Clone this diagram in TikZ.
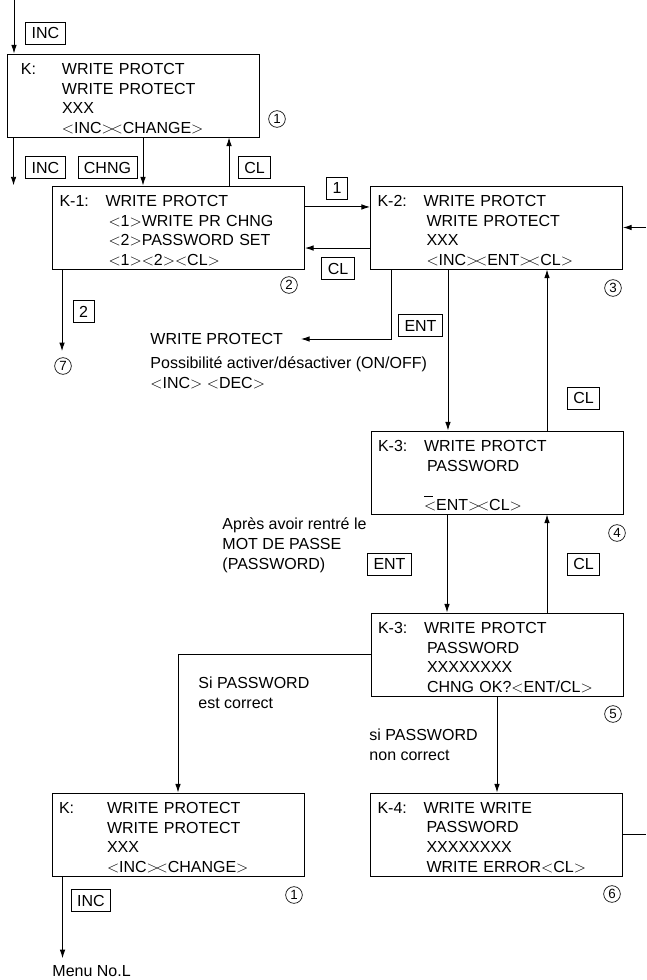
\documentclass[tikz,border=0pt]{standalone}
\usepackage{fontspec}
\setmainfont{Liberation Sans}
\usepackage{tikz}
\usetikzlibrary{
    arrows.meta,
    positioning,
    calc
}

\newcommand{\boxfont}{\fontsize{12}{14.8}\selectfont}
\newcommand{\bopen}{$<$}
\newcommand{\bclose}{$>$}
\newcommand{\bcross}{$>$\kern-2.5pt$<$}
\newcommand{\scrtag}[1]{\makebox[34.5pt][l]{#1}}
\newcommand{\scrind}{\hspace*{36.75pt}}
\newcommand{\scrend}{\endgraf\kern-4.5pt}

\begin{document}
\begin{tikzpicture}[
    x=0.75pt, y=-0.75pt,
    >={Latex[length=6.5pt,width=4.2pt]},
    line width=0.7pt,
    screen/.style={draw, minimum width=189pt, minimum height=62.25pt, text width=178.5pt, inner xsep=5.25pt, align=left, font=\boxfont, execute at end node=\scrend},
    key/.style={draw, line width=0.6pt, inner xsep=4.5pt, inner ysep=0pt, minimum height=16.5pt, font=\boxfont},
    num/.style={circle, draw, line width=0.5pt, inner sep=0pt, minimum size=12.5pt, font=\fontsize{10}{10}\selectfont},
    note/.style={anchor=west, inner sep=0pt, align=left, font=\fontsize{12}{15}\selectfont},
    arr/.style={->}
]
\useasboundingbox (0,0) rectangle (646,980);

% ==================== MENU K ====================
\node[screen] (k) at (133,95.5) {
    \makebox[36pt][l]{\hspace*{5.25pt}K:}WRITE PROTCT\\
    \hspace*{36pt}WRITE PROTECT\\
    \hspace*{36pt}XXX\\
    \hspace*{36pt}\bopen INC\bcross CHANGE\bclose
};
\node[num] (c1) at (277,119) {1};
\coordinate (entry) at (14,0);
\draw[arr] (entry) -- (entry |- k.north);
\node[key] (kinc0) at (45.5,33) {INC};

% ==================== K-1 ====================
\node[screen] (k1) at (178.5,227.5) {
    \scrtag{K-1:}WRITE PROTCT\\
    \scrind\bopen 1\bclose WRITE PR CHNG\\
    \scrind\bopen 2\bclose PASSWORD SET\\
    \scrind\bopen 1\bclose\bopen 2\bclose\bopen CL\bclose
};
\node[num] (c2) at (289,285) {2};

\draw[arr] ([xshift=5.25pt]k.south west) -- ++(0,48);
\draw[arr] ([xshift=7.5pt]k.south) -- ([xshift=7.5pt]k.south |- k1.north);
\draw[arr] ([xshift=37.9pt]k1.north) -- ([xshift=37.9pt]k1.north |- k.south);
\node[key] (kinc1) at (45.5,167.5) {INC};
\node[key] (kchng) at (107.5,167.5) {CHNG};
\node[key] (kcl1) at (254.5,167.5) {CL};

% ==================== K-2 ====================
\node[screen] (k2) at (496.5,227.5) {
    \scrtag{K-2:}WRITE PROTCT\\
    \scrind WRITE PROTECT\\
    \scrind XXX\\
    \scrind\bopen INC\bcross ENT\bcross CL\bclose
};
\node[num] (c3) at (613,288) {3};
\coordinate (ret) at (646,227.5);

\draw[arr] ([yshift=15.4pt]k1.east) -- ([yshift=15.4pt]k1.east -| k2.west);
\draw[arr] ([yshift=-15.4pt]k2.west) -- ([yshift=-15.4pt]k2.west -| k1.east);
\draw[arr] (ret) -- (k2.east);
\node[key] (kone) at (337,188) {1};
\node[key] (kcl2) at (338,268.5) {CL};

% ==================== WRITE PROTECT SETTING ====================
\node[note] (wp) at (150,339) {WRITE PROTECT};
\node[note] (wpnote) at (150,373) {Possibilité activer/désactiver (ON/OFF)\\\bopen INC\bclose\ \bopen DEC\bclose};
\draw[arr] ([xshift=15.75pt]k2.south west) |- ([xshift=13.2pt]wp.east);
\node[key] (kent1) at (420.5,325.5) {ENT};

% branch 2
\node[num] (c7) at (63,366) {7};
\draw[arr, shorten >=4.6pt] ([xshift=7.5pt]k1.south west) -- ([xshift=7.5pt]k1.south west |- c7.north);
\node[key] (ktwo) at (83.5,311.5) {2};

% ==================== K-3 PASSWORD ENTRY ====================
\node[screen] (k3) at (497,472.5) {
    \scrtag{K-3:}WRITE PROTCT\\
    \scrind PASSWORD\\
    \mbox{}\\
    \hspace*{34.5pt}\rlap{\raisebox{10pt}{\rule{7pt}{0.6pt}}}\bopen ENT\bcross CL\bclose
};
\node[num] (c4) at (617,533) {4};

\draw[arr] ([xshift=-36.4pt]k2.south) -- ([xshift=-36.4pt]k2.south |- k3.north);
\draw[arr] ([xshift=37.5pt]k3.north) -- ([xshift=37.5pt]k3.north |- k2.south);
\node[key] (kcl3) at (583.5,398) {CL};

\node[note] (after) at (222,545) {Après avoir rentré le\\MOT DE PASSE\\(PASSWORD)};

% ==================== K-3 CONFIRM ====================
\node[screen] (k5) at (497,654.5) {
    \scrtag{K-3:}WRITE PROTCT\\
    \scrind PASSWORD\\
    \scrind XXXXXXXX\\
    \scrind CHNG OK?\bopen ENT/CL\bclose
};
\node[num] (c5) at (613,714) {5};

\draw[arr] ([xshift=-37.5pt]k3.south) -- ([xshift=-37.5pt]k3.south |- k5.north);
\draw[arr] ([xshift=37.5pt]k5.north) -- ([xshift=37.5pt]k5.north |- k3.south);
\node[key] (kent2) at (389.5,564) {ENT};
\node[key] (kcl4) at (583.5,564) {CL};

% ==================== RESULT ====================
\node[screen] (kend) at (178,834.5) {
    \makebox[36pt][l]{K:}WRITE PROTECT\\
    \hspace*{36pt}WRITE PROTECT\\
    \hspace*{36pt}XXX\\
    \hspace*{36pt}\bopen INC\bcross CHANGE\bclose
};
\node[num] (c1b) at (294,895) {1};

\node[screen] (k4) at (496.5,834.5) {
    \scrtag{K-4:}WRITE WRITE\\
    \scrind PASSWORD\\
    \scrind XXXXXXXX\\
    \scrind WRITE ERROR\bopen CL\bclose
};
\node[num] (c6) at (612,894) {6};

\draw[arr] (k5.west) -| (kend.north);
\node[note] (ok) at (198,693) {Si PASSWORD\\est correct};
\draw[arr] (k5.south) -- (k5.south |- k4.north);
\node[note] (nok) at (369,744.5) {si PASSWORD\\non correct};
\draw (k4.east) -- (k4.east -| ret);

% ==================== EXIT ====================
\node[note] (menu) at (52,971) {Menu No.L};
\draw[arr, shorten >=5pt] ([xshift=8.25pt]kend.south west) -- ([xshift=8.25pt]kend.south west |- menu.north);
\node[key] (kinc2) at (91,900.5) {INC};

\end{tikzpicture}
\end{document}
